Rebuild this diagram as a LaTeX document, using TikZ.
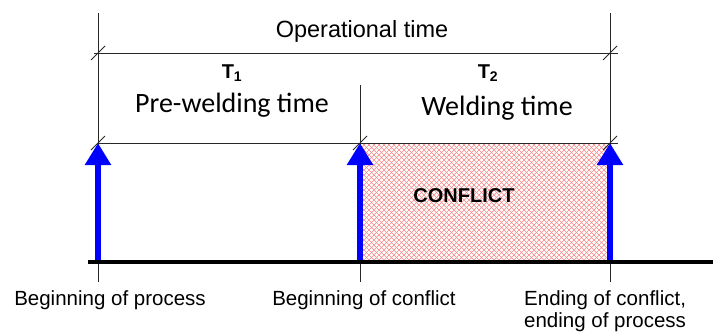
\documentclass[tikz,border=0pt]{standalone}
\usepackage{fontspec}
\setmainfont{Liberation Sans}
\newfontfamily\calibri{Carlito}
\usetikzlibrary{arrows.meta}
\definecolor{dimgray}{RGB}{40,40,40}
\definecolor{arrowblue}{RGB}{0,0,255}
\definecolor{hatchred}{RGB}{250,135,135}
\tikzset{
  dimline/.style={draw=dimgray, line width=0.9pt},
  slashmark/.style={draw=dimgray, line width=0.9pt},
  basel/.style={draw=black, line width=4pt},
  bluearrow/.style={draw=arrowblue, line width=6.5pt, -{Triangle[length=22pt,width=25pt]}},
  hatchline/.style={draw=hatchred, line width=0.5pt},
  lbl/.style={inner sep=0pt, anchor=base, font=\fontsize{20.5}{24}\selectfont},
  toplbl/.style={inner sep=0pt, anchor=base, font=\fontsize{23.5}{28}\selectfont},
  tlbl/.style={inner sep=0pt, anchor=base, font=\fontsize{20}{24}\selectfont\bfseries},
  cal/.style={inner sep=0pt, anchor=base, font=\fontsize{28}{32}\selectfont\calibri},
  conf/.style={inner sep=0pt, anchor=base, font=\fontsize{20}{24}\selectfont\bfseries}
}
\begin{document}
\begin{tikzpicture}[x=1pt,y=-1pt]
\useasboundingbox (0,0) rectangle (713,332);
% coordinates
\coordinate (Lt) at (98,13);   \coordinate (Rt) at (610,13);  \coordinate (Mt) at (360,85);
\coordinate (Lb) at (98,262);  \coordinate (Mb) at (360,262); \coordinate (Rb) at (610,262);
\coordinate (Lbb) at (98,282); \coordinate (Mbb) at (360,282); \coordinate (Rbb) at (610,282);
\coordinate (La) at (98,143);  \coordinate (Ma) at (360,143); \coordinate (Ra) at (610,143);
\coordinate (D1s) at (94,53);  \coordinate (D1e) at (618,53);
\coordinate (D2s) at (98,143); \coordinate (D2e) at (618,143);
\coordinate (B0) at (88,262);  \coordinate (B1) at (713,262);
% hatched conflict area
\fill[white] (362,143) rectangle (608,262);
\begin{scope}
  \clip (362,143) rectangle (608,262);
  \foreach \i in {-130,-125,...,250} {
    \draw[hatchline] (362+\i,143) -- ++(130,130);
    \draw[hatchline] (362+\i,262) -- ++(130,-130);
  }
\end{scope}
% extension lines
\draw[dimline] (Lt) -- (Lbb);
\draw[dimline] (Rt) -- (Rbb);
\draw[dimline] (Mt) -- (Mbb);
% dimension lines
\draw[dimline] (D1s) -- (D1e);
\draw[dimline] (D2s) -- (D2e);
% slashes
\foreach \x/\y in {98/53,610/53,98/143,360/143,610/143} {
  \draw[slashmark] (\x-7,\y+7) -- (\x+7,\y-7);
}
% blue arrows
\draw[bluearrow] (Lb) -- (La);
\draw[bluearrow] (Mb) -- (Ma);
\draw[bluearrow] (Rb) -- (Ra);
% baseline
\draw[basel] (B0) -- (B1);
% labels
\node[toplbl] (op) at (362,37) {Operational time};
\node[tlbl] (t1) at (232,78) {T\textsubscript{1}};
\node[cal] (pw) at (232,112) {Pre-welding time};
\node[tlbl] (t2) at (488,78) {T\textsubscript{2}};
\node[cal] (wt) at (497,115) {Welding time};
\node[conf] (cf) at (464,202) {CONFLICT};
\node[lbl] (bp) at (110,305) {Beginning of process};
\node[lbl] (bc) at (364,305) {Beginning of conflict};
\node[lbl, anchor=base west] (ec) at (524,305) {Ending of conflict,};
\node[lbl, anchor=base west] (ep) at (524,327) {ending of process};
\end{tikzpicture}
\end{document}
